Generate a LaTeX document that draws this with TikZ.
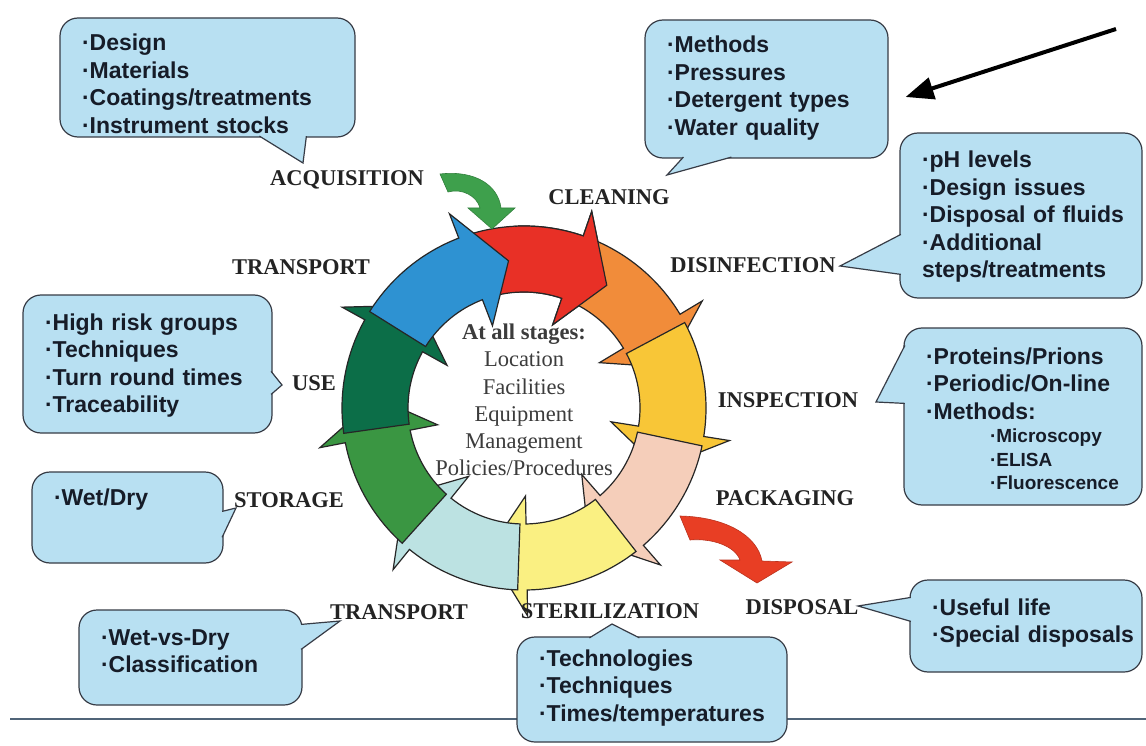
\documentclass[tikz,border=0pt]{standalone}
\usepackage{fontspec}
\setmainfont{Liberation Serif}
\setsansfont{Liberation Sans}
\usetikzlibrary{calc,arrows.meta}
\hyphenpenalty=10000
\exhyphenpenalty=10000

\definecolor{bubblefill}{RGB}{184,224,242}
\definecolor{bubbleline}{RGB}{55,60,70}
\definecolor{bubbletext}{RGB}{22,28,40}
\definecolor{stagetext}{RGB}{35,35,35}
\definecolor{centretext}{RGB}{60,60,60}
\definecolor{ringred}{RGB}{232,48,38}
\definecolor{ringorange}{RGB}{241,140,58}
\definecolor{ringgold}{RGB}{248,198,55}
\definecolor{ringpeach}{RGB}{245,206,186}
\definecolor{ringlemon}{RGB}{250,240,130}
\definecolor{ringaqua}{RGB}{188,226,226}
\definecolor{ringgreen}{RGB}{58,150,66}
\definecolor{ringpine}{RGB}{12,110,72}
\definecolor{ringblue}{RGB}{46,146,210}
\definecolor{acqgreen}{RGB}{62,160,76}
\definecolor{dispred}{RGB}{232,62,36}
\definecolor{rulecolour}{RGB}{80,100,120}

\tikzset{
	stage/.style={font=\fontsize{22.5}{27}\selectfont\bfseries, text=stagetext, inner sep=0pt},
	centre/.style={font=\fontsize{22.5}{27.3}\selectfont, text=centretext, align=center, inner sep=0pt},
	bubble/.style={draw=bubbleline, fill=bubblefill, line width=1.2pt, rounded corners=18pt,
		inner xsep=22pt, inner ysep=0pt, align=left, text=bubbletext, text height=16.5pt,
		font=\fontsize{23}{27.5}\selectfont\sffamily\bfseries},
	pointer/.style={draw=bubbleline, fill=bubblefill, line width=1.2pt, line join=miter},
	ringarrow/.style={draw=black!85, line width=1.2pt, line join=miter},
}

% one arrow of the ring: fill colour, start angle, angle of the head
\newcommand{\cyclearrow}[3]{%
	\filldraw[ringarrow, fill=#1] (#2:182) arc[start angle=#2, end angle=#3, radius=182]
		-- (#3:208) -- ({#3+15}:148) -- (#3:88) -- (#3:116)
		arc[start angle=#3, end angle=#2, radius=116] -- cycle;}
\newcommand{\subfont}{\fontsize{19}{23.5}\selectfont}

\begin{document}
\begin{tikzpicture}[x=1pt, y=-1pt]
	\useasboundingbox (0,0) rectangle (1146,746);
	\fill[white] (0,0) rectangle (1146,746);

	\draw[rulecolour, line width=1.5pt] (10,719) -- (1146,719);

	% the cycle
	\begin{scope}[shift={(524,408)}]
		\foreach \rc/\ra/\rb in {ringred/-108/-71, ringorange/-68/-31, ringgold/-28/9,
			ringpeach/12/49, ringlemon/52/89, ringaqua/92/129, ringgreen/132/169,
			ringpine/172/209, ringblue/212/249}
			{\cyclearrow{\rc}{\ra}{\rb}}
		% red head again, over the orange tail
		\begin{scope}
			\clip (0,0) -- (-93:260) -- (-70:260) -- (-45:260) -- cycle;
			\cyclearrow{ringred}{-108}{-71}
		\end{scope}
		\node[centre] (stages) at (0,-8) {\textbf{At all stages:}\\Location\\Facilities\\Equipment\\Management\\Policies/Procedures};
	\end{scope}

	% in and out of the cycle
	\filldraw[fill=acqgreen, draw=acqgreen!80!black, line width=0.6pt]
		(440,174) .. controls (475,170) and (498,185) .. (501,208) -- (515,208) -- (492,229)
		-- (468,208) -- (480,208) .. controls (477,196) and (462,188) .. (448,192) -- cycle;
	\filldraw[fill=dispred, draw=dispred!80!black, line width=0.6pt]
		(680,516) .. controls (725,517) and (757,535) .. (762,561) -- (792,562) -- (757,583)
		-- (720,560) -- (740,560) .. controls (735,546) and (712,538) .. (690,540) -- cycle;

	% stage names
	\node[stage] (acq) at (347,180) {ACQUISITION};
	\node[stage] (clean) at (609,197) {CLEANING};
	\node[stage] (disinf) at (753,265) {DISINFECTION};
	\node[stage] (insp) at (788,400) {INSPECTION};
	\node[stage] (pack) at (785,498) {PACKAGING};
	\node[stage] (disp) at (802,607) {DISPOSAL};
	\node[stage] (steril) at (610,611) {STERILIZATION};
	\node[stage] (transb) at (399,612) {TRANSPORT};
	\node[stage] (store) at (289,500) {STORAGE};
	\node[stage] (use) at (314,383) {USE};
	\node[stage] (transt) at (301,267) {TRANSPORT};

	% call-outs
	\node[bubble, minimum width=295pt, minimum height=119pt, text width=251pt, text height=29.5pt, text depth=82.5pt] (acqbox) at (207.5,77.5)
		{·Design\\·Materials\\·Coatings/treatments\\·Instrument~stocks};
	\node[bubble, minimum width=243pt, minimum height=138pt, text width=199pt, text depth=88.5pt] (cleanbox) at (766.5,89)
		{·Methods\\·Pressures\\·Detergent~types\\·Water~quality};
	\node[bubble, minimum width=242pt, minimum height=165pt, text width=198pt, text depth=111.5pt] (disinfbox) at (1021,215.5)
		{·pH~levels\\·Design~issues\\·Disposal~of~fluids\\·Additional\\steps/treatments};
	\node[bubble, minimum width=249pt, minimum height=138pt, text width=205pt, text depth=84.5pt] (usebox) at (147.5,364)
		{·High~risk~groups\\·Techniques\\·Turn~round~times\\·Traceability};
	\node[bubble, minimum width=238pt, minimum height=177pt, text width=194pt, text height=20.5pt, text depth=125.5pt] (inspbox) at (1023,416.5)
		{·Proteins/Prions\\·Periodic/On-line\\·Methods:\par
		{\subfont\leftskip=64pt ·Microscopy\\·ELISA\\·Fluorescence\par}};
	\node[bubble, minimum width=191pt, minimum height=91pt, text width=147pt, text depth=41.5pt] (storebox) at (127.5,517.5)
		{·Wet/Dry};
	\node[bubble, minimum width=223pt, minimum height=95pt, text width=179pt, text depth=41.5pt] (transbox) at (190.5,657.5)
		{·Wet-vs-Dry\\·Classification};
	\node[bubble, minimum width=270pt, minimum height=105pt, text width=226pt, text depth=63.5pt] (sterilbox) at (652,689.5)
		{·Technologies\\·Techniques\\·Times/temperatures};
	\node[bubble, minimum width=232pt, minimum height=92pt, text width=188pt, text depth=38.5pt] (dispbox) at (1026,626)
		{·Useful~life\\·Special~disposals};

	% call-out tips
	\coordinate (acqtip) at (303,163);
	\coordinate (cleantip) at (667,175);
	\coordinate (disinftip) at (840,266);
	\coordinate (usetip) at (282,385);
	\coordinate (insptip) at (876,402);
	\coordinate (storetip) at (236,508);
	\coordinate (transtip) at (340,621);
	\coordinate (steriltip) at (612,624);
	\coordinate (disptip) at (858,606);

	\filldraw[pointer] ($(acqbox.south west)+(200,-1.5)$) -- (acqtip) -- ($(acqbox.south west)+(247,-1.5)$);
	\filldraw[pointer] ($(cleanbox.south west)+(39,-1.5)$) -- (cleantip) -- ($(cleanbox.south west)+(87,-1.5)$);
	\filldraw[pointer] ($(disinfbox.north west)+(1.5,102)$) -- (disinftip) -- ($(disinfbox.north west)+(1.5,142)$);
	\filldraw[pointer] ($(usebox.north east)+(-1.5,77)$) -- (usetip) -- ($(usebox.north east)+(-1.5,100)$);
	\filldraw[pointer] ($(inspbox.north west)+(1.5,18)$) -- (insptip) -- ($(inspbox.north west)+(1.5,76)$);
	\filldraw[pointer] ($(storebox.north east)+(-1.5,40)$) -- (storetip) -- ($(storebox.north east)+(-1.5,66)$);
	\filldraw[pointer] ($(transbox.north east)+(-1.5,15)$) -- (transtip) -- ($(transbox.north east)+(-1.5,40)$);
	\filldraw[pointer] ($(sterilbox.north west)+(73,1.5)$) -- (steriltip) -- ($(sterilbox.north west)+(123,1.5)$);
	\filldraw[pointer] ($(dispbox.north west)+(1.5,18)$) -- (disptip) -- ($(dispbox.north west)+(1.5,42)$);

	% pointer to the cleaning list
	\coordinate (hint) at (1116,29);
	\coordinate (hinttip) at ($(cleanbox.east)+(17,8)$);
	\draw[line width=4pt, -{Triangle[length=28pt, width=22pt]}] (hint) -- (hinttip);
\end{tikzpicture}
\end{document}
